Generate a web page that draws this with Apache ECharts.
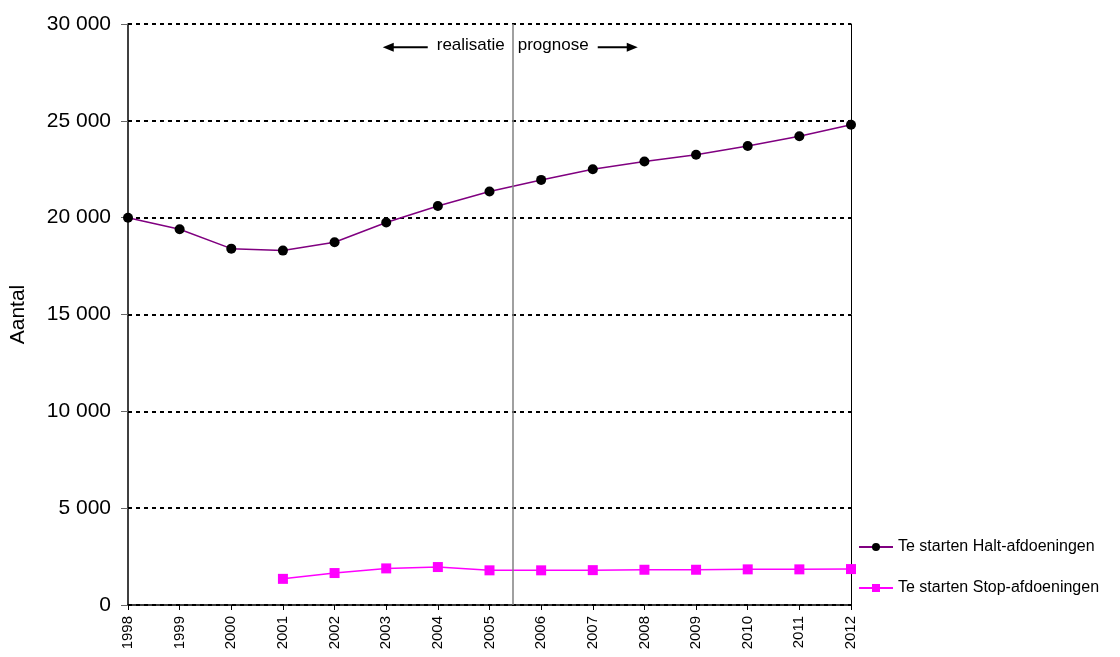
<!DOCTYPE html>
<html>
<head>
<meta charset="utf-8">
<script src="https://cdn.jsdelivr.net/npm/echarts@6/dist/echarts.min.js"></script>
<style>
  html, body { margin: 0; padding: 0; background: #fff; }
  #main { width: 1120px; height: 657px; }
</style>
</head>
<body>
<div id="main"></div>
<script>
// jaren
const years = [1998, 1999, 2000, 2001, 2002, 2003, 2004, 2005, 2006, 2007, 2008, 2009, 2010, 2011, 2012];
// Te starten Halt-afdoeningen
const haltValues = [20000, 19400, 18400, 18300, 18730, 19750, 20600, 21350, 21950, 22500, 22900, 23250, 23700, 24200, 24800];
// Te starten Stop-afdoeningen (vanaf 2001)
const stopYears = [2001, 2002, 2003, 2004, 2005, 2006, 2007, 2008, 2009, 2010, 2011, 2012];
const stopValues = [1350, 1650, 1890, 1960, 1790, 1790, 1800, 1820, 1820, 1840, 1840, 1855];
// grens realisatie / prognose
const splitYear = 2005.45;

const font = 'Arial, "Liberation Sans", sans-serif';

function fmt(v) {
  return String(v).replace(/\B(?=(\d{3})+(?!\d))/g, ' ');
}

const chart = echarts.init(document.getElementById('main'), null, { renderer: 'canvas' });

const option = {
  animation: false,
  backgroundColor: '#fff',
  textStyle: { fontFamily: font },
  grid: { left: 128, right: 269, top: 24, bottom: 52 },
  legend: {
    orient: 'vertical',
    left: 853,
    top: 534,
    itemGap: 25,
    itemWidth: 34,
    itemHeight: 10,
    textStyle: { fontSize: 16, color: '#000', fontFamily: font },
    data: ['Te starten Halt-afdoeningen', 'Te starten Stop-afdoeningen']
  },
  xAxis: {
    type: 'value',
    min: 1998,
    max: 2012,
    interval: 1,
    axisLine: { show: true, onZero: false, lineStyle: { color: '#000', width: 1.5 } },
    axisTick: { show: true, length: 5, lineStyle: { color: '#000' } },
    axisLabel: { rotate: 90, fontSize: 15, color: '#000', margin: 11, formatter: v => String(v) },
    splitLine: { show: false }
  },
  yAxis: [
    {
      type: 'value',
      min: 0,
      max: 30000,
      interval: 5000,
      name: 'Aantal',
      nameLocation: 'middle',
      nameGap: 99,
      nameTextStyle: { fontSize: 21, color: '#000' },
      axisLine: { show: true, lineStyle: { color: '#000', width: 1.5 } },
      axisTick: { show: true, length: 7, lineStyle: { color: '#666' } },
      axisLabel: { fontSize: 21, color: '#000', margin: 17, formatter: fmt },
      splitLine: { show: true, lineStyle: { color: '#000', width: 2, type: [4, 4] } }
    },
    {
      type: 'value',
      min: 0,
      max: 30000,
      position: 'right',
      axisLine: { show: true, lineStyle: { color: '#000', width: 1 } },
      axisTick: { show: false },
      axisLabel: { show: false },
      splitLine: { show: false }
    }
  ],
  series: [
    {
      name: 'Te starten Halt-afdoeningen',
      type: 'line',
      data: years.map((y, i) => [y, haltValues[i]]),
      symbol: 'circle',
      symbolSize: 10,
      lineStyle: { color: '#800080', width: 1.5 },
      itemStyle: { color: '#000' },
      z: 3,
      markLine: {
        silent: true,
        symbol: 'none',
        label: { show: false },
        lineStyle: { color: '#808080', width: 1.5, type: 'solid' },
        data: [{ xAxis: splitYear }]
      }
    },
    {
      name: 'Te starten Stop-afdoeningen',
      type: 'line',
      data: stopYears.map((y, i) => [y, stopValues[i]]),
      symbol: 'rect',
      symbolSize: 10,
      lineStyle: { color: '#FF00FF', width: 1.5 },
      itemStyle: { color: '#FF00FF' },
      z: 3
    }
  ]
};

chart.setOption(option);

// annotatie boven in de grafiek
const p = chart.convertToPixel({ gridIndex: 0 }, [splitYear, 28800]);
const ay = p[1];
const sx = p[0];
chart.setOption({
  graphic: [
    { type: 'text', left: sx - 76, top: ay - 10,
      style: { text: 'realisatie', fontSize: 17, fill: '#000', fontFamily: font } },
    { type: 'text', left: sx + 5, top: ay - 10,
      style: { text: 'prognose', fontSize: 17, fill: '#000', fontFamily: font } },
    { type: 'line', shape: { x1: sx - 85, y1: ay, x2: sx - 125, y2: ay },
      style: { stroke: '#000', lineWidth: 2 } },
    { type: 'polygon', shape: { points: [[sx - 130, ay], [sx - 119, ay - 4.5], [sx - 119, ay + 4.5]] },
      style: { fill: '#000' } },
    { type: 'line', shape: { x1: sx + 85, y1: ay, x2: sx + 120, y2: ay },
      style: { stroke: '#000', lineWidth: 2 } },
    { type: 'polygon', shape: { points: [[sx + 125, ay], [sx + 114, ay - 4.5], [sx + 114, ay + 4.5]] },
      style: { fill: '#000' } }
  ]
});
</script>
</body>
</html>
